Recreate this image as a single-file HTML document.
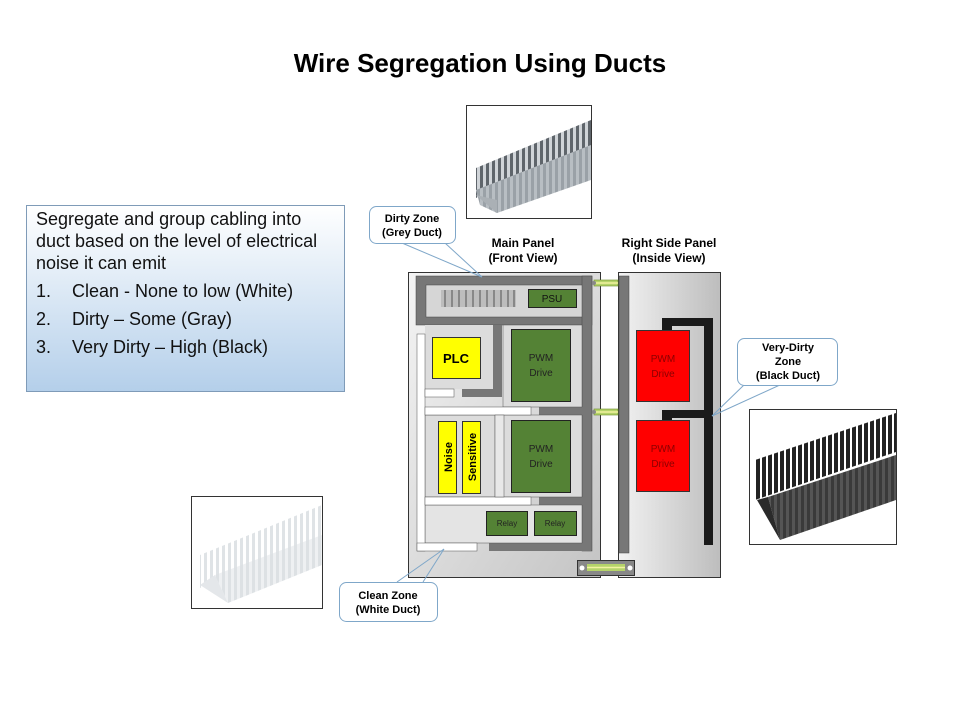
<!DOCTYPE html>
<html><head><meta charset="utf-8"><style>
html,body{margin:0;padding:0;background:#fff;}
body{width:960px;height:720px;overflow:hidden;position:relative;font-family:"Liberation Sans",sans-serif;}
</style></head><body>
<svg width="960" height="720" viewBox="0 0 960 720" xmlns="http://www.w3.org/2000/svg" style="position:absolute;left:0;top:0">
<defs>
<linearGradient id="tb" x1="0" y1="0" x2="0" y2="1"><stop offset="0" stop-color="#ffffff"/><stop offset="1" stop-color="#b4cfea"/></linearGradient>
<linearGradient id="pn" x1="0" y1="0" x2="1" y2="1"><stop offset="0" stop-color="#f4f4f4"/><stop offset="1" stop-color="#c4c4c4"/></linearGradient>
<linearGradient id="pr" x1="0" y1="0" x2="1" y2="0"><stop offset="0" stop-color="#f2f2f2"/><stop offset="1" stop-color="#bdbdbd"/></linearGradient>
<pattern id="gs" width="6" height="6" patternUnits="userSpaceOnUse"><rect width="6" height="6" fill="#d0d4d8"/><rect width="3" height="6" fill="#5f656b"/></pattern>
<pattern id="ws" width="6" height="6" patternUnits="userSpaceOnUse"><rect width="6" height="6" fill="#ffffff"/><rect width="3" height="6" fill="#dfe3e6"/></pattern>
<pattern id="bs" width="6" height="6" patternUnits="userSpaceOnUse"><rect width="6" height="6" fill="#ffffff"/><rect width="4" height="6" fill="#222"/></pattern>
<pattern id="gs2" width="6" height="6" patternUnits="userSpaceOnUse"><rect width="6" height="6" fill="#9aa1a7"/><rect width="3" height="6" fill="#b8bec3"/></pattern>
<pattern id="bs2" width="6" height="6" patternUnits="userSpaceOnUse"><rect width="6" height="6" fill="#3a3a3a"/><rect width="3" height="6" fill="#555"/></pattern>
<pattern id="ws2" width="6" height="6" patternUnits="userSpaceOnUse"><rect width="6" height="6" fill="#eef0f2"/><rect width="3" height="6" fill="#dde1e4"/></pattern>
</defs>

<text x="480" y="72" text-anchor="middle" font-family="Liberation Sans" font-weight="bold" font-size="26" fill="#000">Wire Segregation Using Ducts</text>

<!-- text box -->
<rect x="26.5" y="205.5" width="318" height="186" fill="url(#tb)" stroke="#7f9bb8"/>
<g font-family="Liberation Sans" font-size="18" fill="#111">
<text x="36" y="225">Segregate and group cabling into</text>
<text x="36" y="247">duct based on the level of electrical</text>
<text x="36" y="269">noise it can emit</text>
<text x="36" y="297">1.</text><text x="72" y="297">Clean - None to low (White)</text>
<text x="36" y="325">2.</text><text x="72" y="325">Dirty – Some (Gray)</text>
<text x="36" y="353">3.</text><text x="72" y="353">Very Dirty – High (Black)</text>
</g>

<!-- top photo grey duct -->
<rect x="466.5" y="105.5" width="125" height="113" fill="#fff" stroke="#333"/>
<polygon points="476,168 591,120 591,150 476,198" fill="url(#gs)"/>
<polygon points="476,190 591,145 591,180 497,213 480,205" fill="url(#gs2)"/>
<polygon points="476,195 497,213 497,200" fill="#aab0b5"/>

<!-- left photo white duct -->
<rect x="191.5" y="496.5" width="131" height="112" fill="#fff" stroke="#333"/>
<polygon points="200,555 322,505 322,540 200,588" fill="url(#ws)"/>
<polygon points="215,575 322,535 322,565 228,603" fill="url(#ws2)"/>
<polygon points="200,585 228,603 215,575" fill="#e4e7ea"/>

<!-- right photo black duct -->
<rect x="749.5" y="409.5" width="147" height="135" fill="#fff" stroke="#333"/>
<polygon points="755,460 896,413 896,452 755,500" fill="url(#bs)"/>
<polygon points="768,497 896,455 896,500 780,540" fill="url(#bs2)"/>
<polygon points="757,500 780,540 768,497" fill="#2a2a2a"/>

<!-- headings -->
<g font-family="Liberation Sans" font-weight="bold" font-size="12" fill="#000" text-anchor="middle">
<text x="523" y="247">Main Panel</text><text x="523" y="262">(Front View)</text>
<text x="669" y="247">Right Side Panel</text><text x="669" y="262">(Inside View)</text>
</g>

<!-- main panel -->
<rect x="408.5" y="272.5" width="192" height="305" fill="url(#pn)" stroke="#333"/>
<rect x="416" y="276" width="176" height="49" fill="#777" stroke="#444" stroke-width="0.5"/>
<rect x="426" y="285" width="157" height="32" fill="#d6d6d6" stroke="#444" stroke-width="0.5"/>
<rect x="582" y="276" width="10" height="275" fill="#777" stroke="#444" stroke-width="0.5"/>
<rect x="493" y="325" width="9" height="72" fill="#777"/>
<rect x="462" y="388" width="40" height="9" fill="#777"/>
<rect x="539" y="407" width="52" height="8" fill="#777"/>
<rect x="539" y="497" width="52" height="8" fill="#777"/>
<rect x="489" y="543" width="102" height="8" fill="#777"/>
<rect x="425" y="325" width="68" height="64" fill="#dcdcdc"/>
<rect x="503" y="325" width="79" height="82" fill="#dcdcdc" stroke="#555" stroke-width="0.5"/>
<rect x="425" y="415" width="70" height="82" fill="#dcdcdc" stroke="#555" stroke-width="0.5"/>
<rect x="503" y="415" width="79" height="82" fill="#dcdcdc" stroke="#555" stroke-width="0.5"/>
<rect x="425" y="505" width="157" height="38" fill="#e4e4e4" stroke="#555" stroke-width="0.5"/>
<rect x="417" y="334" width="8" height="217" fill="#fff" stroke="#555" stroke-width="0.5"/>
<rect x="417" y="543" width="60" height="8" fill="#fff" stroke="#555" stroke-width="0.5"/>
<rect x="425" y="389" width="29" height="8" fill="#fff" stroke="#555" stroke-width="0.5"/>
<rect x="425" y="407" width="106" height="8" fill="#fff" stroke="#555" stroke-width="0.5"/>
<rect x="425" y="497" width="106" height="8" fill="#fff" stroke="#555" stroke-width="0.5"/>
<rect x="495" y="415" width="9" height="82" fill="#e8e8e8" stroke="#555" stroke-width="0.5"/>
<rect x="441" y="290" width="75" height="17" fill="#bdbdbd"/>
<g stroke="#777" stroke-width="1.5">
<line x1="445" y1="290" x2="445" y2="307"/><line x1="452" y1="290" x2="452" y2="307"/><line x1="459" y1="290" x2="459" y2="307"/><line x1="466" y1="290" x2="466" y2="307"/><line x1="473" y1="290" x2="473" y2="307"/><line x1="480" y1="290" x2="480" y2="307"/><line x1="487" y1="290" x2="487" y2="307"/><line x1="494" y1="290" x2="494" y2="307"/><line x1="501" y1="290" x2="501" y2="307"/><line x1="508" y1="290" x2="508" y2="307"/><line x1="514" y1="290" x2="514" y2="307"/>
</g>
<rect x="528.5" y="289.5" width="48" height="18" fill="#548235" stroke="#222"/>
<text x="552" y="302" text-anchor="middle" font-size="10" fill="#111">PSU</text>
<rect x="432.5" y="337.5" width="48" height="41" fill="#ffff00" stroke="#333"/>
<text x="456" y="363" text-anchor="middle" font-size="13" font-weight="bold" fill="#000">PLC</text>
<rect x="511.5" y="329.5" width="59" height="72" fill="#548235" stroke="#222"/>
<text x="541" y="361" text-anchor="middle" font-size="10" fill="#222">PWM</text><text x="541" y="376" text-anchor="middle" font-size="10" fill="#222">Drive</text>
<rect x="511.5" y="420.5" width="59" height="72" fill="#548235" stroke="#222"/>
<text x="541" y="452" text-anchor="middle" font-size="10" fill="#222">PWM</text><text x="541" y="467" text-anchor="middle" font-size="10" fill="#222">Drive</text>
<rect x="438.5" y="421.5" width="18" height="72" fill="#ffff00" stroke="#333"/>
<text transform="translate(452,457) rotate(-90)" text-anchor="middle" font-size="11" font-weight="bold" fill="#000">Noise</text>
<rect x="462.5" y="421.5" width="18" height="72" fill="#ffff00" stroke="#333"/>
<text transform="translate(476,457) rotate(-90)" text-anchor="middle" font-size="11" font-weight="bold" fill="#000">Sensitive</text>
<rect x="486.5" y="511.5" width="41" height="24" fill="#548235" stroke="#222"/>
<text x="507" y="526" text-anchor="middle" font-size="8" fill="#222">Relay</text>
<rect x="534.5" y="511.5" width="42" height="24" fill="#548235" stroke="#222"/>
<text x="555" y="526" text-anchor="middle" font-size="8" fill="#222">Relay</text>

<!-- right panel -->
<rect x="618.5" y="272.5" width="102" height="305" fill="url(#pr)" stroke="#333"/>
<rect x="619" y="276" width="10" height="277" fill="#777" stroke="#444" stroke-width="0.5"/>
<rect x="662" y="318" width="51" height="8" fill="#1a1a1a"/>
<rect x="662" y="318" width="10" height="12" fill="#1a1a1a"/>
<rect x="704" y="318" width="9" height="227" fill="#1a1a1a"/>
<rect x="662" y="410" width="51" height="8" fill="#1a1a1a"/>
<rect x="662" y="410" width="10" height="10" fill="#1a1a1a"/>
<rect x="636.5" y="330.5" width="53" height="71" fill="#ff0000" stroke="#333"/>
<text x="663" y="362" text-anchor="middle" font-size="10" fill="#8b0000">PWM</text><text x="663" y="377" text-anchor="middle" font-size="10" fill="#8b0000">Drive</text>
<rect x="636.5" y="420.5" width="53" height="71" fill="#ff0000" stroke="#333"/>
<text x="663" y="452" text-anchor="middle" font-size="10" fill="#8b0000">PWM</text><text x="663" y="467" text-anchor="middle" font-size="10" fill="#8b0000">Drive</text>

<!-- connectors -->
<rect x="594" y="280" width="24" height="6" fill="#b5d36a" stroke="#6a8a2a" stroke-width="0.6"/>
<line x1="594" y1="283" x2="618" y2="283" stroke="#f2f2a0" stroke-width="1.5"/>
<circle cx="594" cy="283" r="2" fill="#888"/>
<rect x="594" y="409" width="24" height="6" fill="#b5d36a" stroke="#6a8a2a" stroke-width="0.6"/>
<line x1="594" y1="412" x2="618" y2="412" stroke="#f2f2a0" stroke-width="1.5"/>
<circle cx="594" cy="412" r="2" fill="#888"/>
<rect x="577.5" y="560.5" width="57" height="15" fill="#888" stroke="#333"/>
<rect x="587" y="564" width="38" height="7" fill="#b5d36a"/>
<line x1="587" y1="567.5" x2="625" y2="567.5" stroke="#f2f2a0" stroke-width="1.5"/>
<circle cx="582" cy="568" r="2.5" fill="#fff"/><circle cx="630" cy="568" r="2.5" fill="#fff"/>

<!-- callouts -->
<g stroke="#7fa7c9" stroke-width="1" fill="none">
<line x1="402" y1="243" x2="482" y2="277"/><line x1="445" y1="243" x2="482" y2="277"/>
<line x1="745" y1="384" x2="712" y2="416"/><line x1="782" y1="384" x2="712" y2="416"/>
<line x1="397" y1="582" x2="444" y2="549"/><line x1="423" y1="582" x2="444" y2="549"/>
</g>
<rect x="369.5" y="206.5" width="86" height="37" rx="7" fill="#fff" stroke="#7fa7c9"/>
<rect x="737.5" y="338.5" width="100" height="47" rx="7" fill="#fff" stroke="#7fa7c9"/>
<rect x="339.5" y="582.5" width="98" height="39" rx="7" fill="#fff" stroke="#7fa7c9"/>
<g font-family="Liberation Sans" font-weight="bold" font-size="11" fill="#000" text-anchor="middle">
<text x="412" y="222">Dirty Zone</text><text x="412" y="236">(Grey Duct)</text>
<text x="788" y="351">Very-Dirty</text><text x="788" y="365">Zone</text><text x="788" y="379">(Black Duct)</text>
<text x="388" y="599">Clean Zone</text><text x="388" y="613">(White Duct)</text>
</g>
</svg>
</body></html>
